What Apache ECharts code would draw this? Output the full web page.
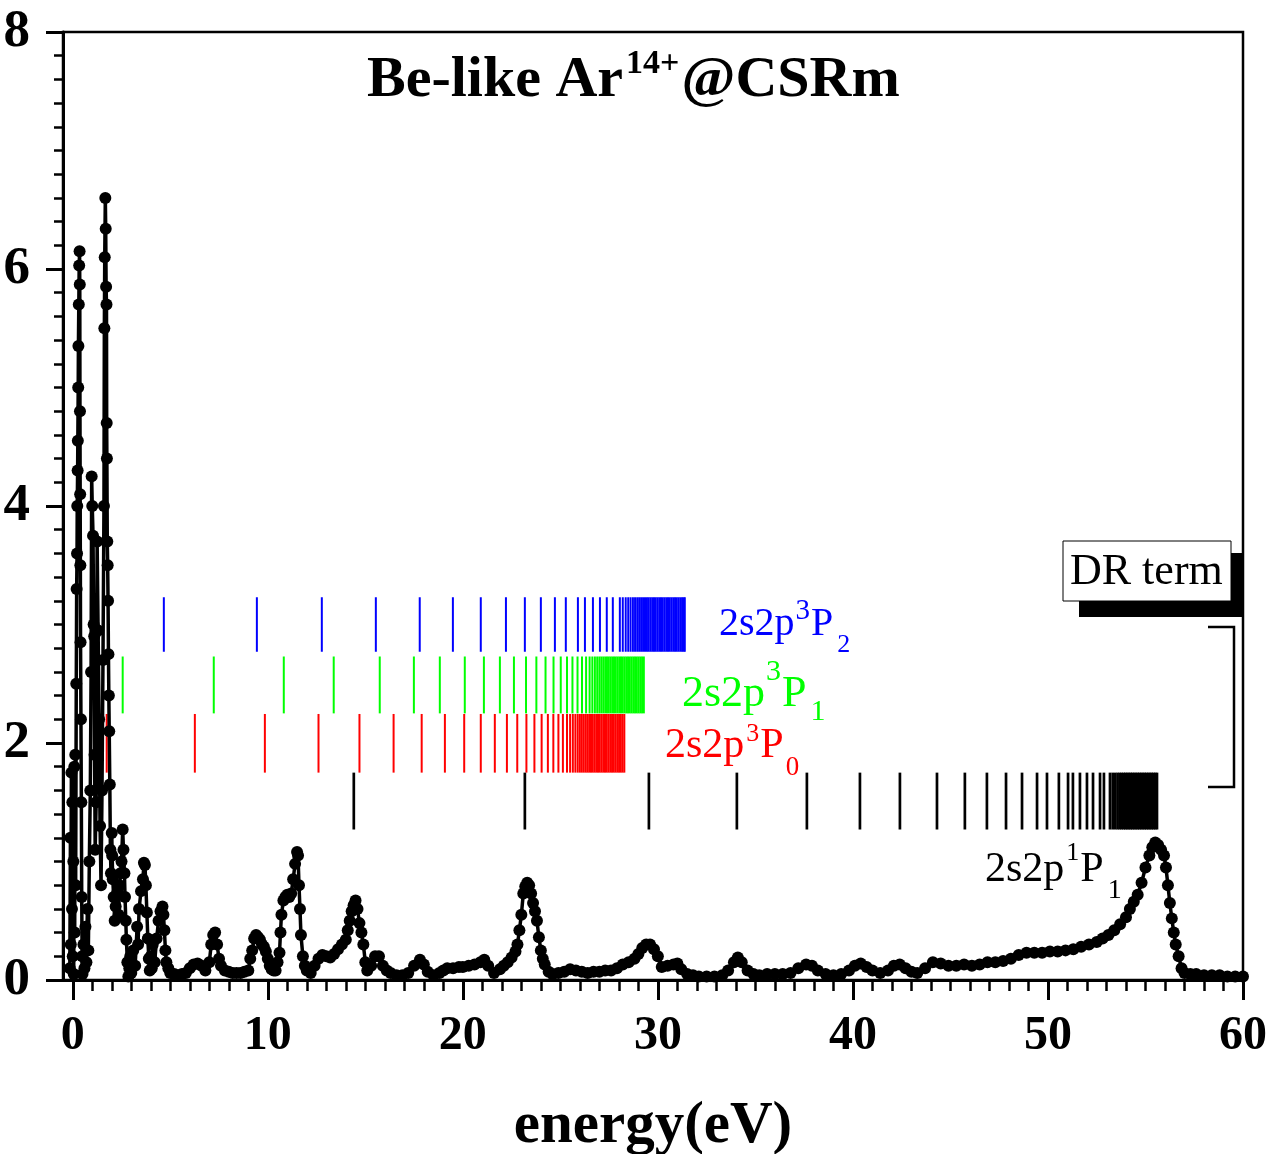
<!DOCTYPE html>
<html><head><meta charset="utf-8">
<script src="https://cdn.jsdelivr.net/npm/echarts@6/dist/echarts.min.js"></script>
<style>html,body{margin:0;padding:0;background:#fff}#c{width:1271px;height:1154px}</style>
</head><body><div id="c"></div>
<script>
const FONT = '"Liberation Serif", "Times New Roman", serif';

// ---- axis ticks ----
const xMajorTicks = [0, 10, 20, 30, 40, 50, 60];
const xMinorTicks = [0,1,2,3,4,5,6,7,8,9,10,11,12,13,14,15,16,17,18,19,20,21,22,23,24,25,26,27,28,29,30,31,32,33,34,35,36,37,38,39,40,41,42,43,44,45,46,47,48,49,50,51,52,53,54,55,56,57,58,59,60];

// ---- measured spectrum [energy eV, rate] ----
const spectrum = [[-0.15,0.1],[-0.12,1.2],[-0.1,0.3],[-0.07,1.75],[-0.04,0.6],[-0.02,1.5],[0.0,0.2],[0.03,1.0],[0.05,0.05],[0.08,1.8],[0.1,0.4],[0.13,1.9],[0.15,0.8],[0.18,2.5],[0.2,3.3],[0.22,3.6],[0.23,4.0],[0.25,4.3],[0.26,4.55],[0.28,5.0],[0.29,5.35],[0.31,5.7],[0.33,6.03],[0.35,6.15],[0.36,5.87],[0.37,4.8],[0.38,4.1],[0.39,3.5],[0.4,2.85],[0.42,2.2],[0.44,1.5],[0.46,0.7],[0.48,0.2],[0.5,0.05],[0.55,0.3],[0.6,0.1],[0.65,0.45],[0.7,0.15],[0.75,0.6],[0.8,0.25],[0.85,1.0],[0.9,1.6],[0.94,2.6],[0.97,4.25],[1.0,4.0],[1.04,3.75],[1.07,3.0],[1.1,2.9],[1.12,1.9],[1.15,1.1],[1.2,1.5],[1.25,3.7],[1.3,2.95],[1.35,2.2],[1.4,1.3],[1.45,0.8],[1.5,1.6],[1.55,2.7],[1.6,4.0],[1.62,5.5],[1.64,6.1],[1.67,6.6],[1.69,6.34],[1.71,5.85],[1.73,5.7],[1.74,4.7],[1.75,4.4],[1.77,3.7],[1.79,3.5],[1.81,3.2],[1.83,2.75],[1.85,2.4],[1.87,2.1],[1.9,1.65],[1.93,1.1],[1.96,0.9],[2.0,1.24],[2.02,1.05],[2.05,0.85],[2.1,0.7],[2.15,0.5],[2.2,0.62],[2.3,0.75],[2.35,0.55],[2.4,0.8],[2.45,0.9],[2.5,1.0],[2.56,1.27],[2.6,1.1],[2.65,0.9],[2.68,0.7],[2.72,0.5],[2.75,0.34],[2.8,0.15],[2.85,0.03],[2.9,0.1],[2.95,0.2],[3.0,0.06],[3.1,0.25],[3.2,0.12],[3.3,0.45],[3.35,0.3],[3.4,0.6],[3.5,0.75],[3.6,0.85],[3.65,0.99],[3.7,0.97],[3.75,0.8],[3.8,0.57],[3.85,0.35],[3.9,0.18],[3.95,0.08],[4.0,0.2],[4.05,0.1],[4.1,0.3],[4.2,0.15],[4.3,0.35],[4.4,0.5],[4.5,0.58],[4.6,0.62],[4.65,0.55],[4.7,0.42],[4.75,0.25],[4.8,0.15],[4.9,0.1],[5.0,0.06],[5.2,0.05],[5.4,0.04],[5.6,0.05],[5.8,0.06],[6.0,0.1],[6.2,0.13],[6.4,0.14],[6.6,0.12],[6.8,0.08],[7.0,0.15],[7.1,0.3],[7.2,0.38],[7.3,0.4],[7.4,0.3],[7.5,0.18],[7.6,0.12],[7.8,0.08],[8.0,0.07],[8.2,0.06],[8.4,0.06],[8.6,0.06],[8.8,0.07],[9.0,0.08],[9.1,0.18],[9.2,0.25],[9.3,0.35],[9.4,0.38],[9.5,0.36],[9.6,0.34],[9.7,0.3],[9.8,0.28],[9.9,0.24],[10.0,0.18],[10.1,0.12],[10.2,0.09],[10.3,0.08],[10.4,0.08],[10.5,0.15],[10.6,0.23],[10.65,0.4],[10.7,0.55],[10.8,0.67],[10.9,0.7],[11.0,0.72],[11.1,0.7],[11.2,0.73],[11.3,0.85],[11.4,0.98],[11.5,1.08],[11.55,1.05],[11.6,0.8],[11.65,0.6],[11.7,0.38],[11.8,0.2],[11.9,0.12],[12.0,0.08],[12.2,0.06],[12.4,0.12],[12.6,0.18],[12.8,0.21],[13.0,0.2],[13.2,0.19],[13.4,0.22],[13.6,0.26],[13.8,0.3],[14.0,0.34],[14.1,0.42],[14.2,0.5],[14.3,0.58],[14.4,0.63],[14.5,0.67],[14.6,0.6],[14.7,0.48],[14.8,0.4],[14.9,0.3],[15.0,0.15],[15.1,0.08],[15.3,0.12],[15.5,0.2],[15.7,0.2],[15.9,0.12],[16.1,0.08],[16.3,0.06],[16.6,0.04],[16.9,0.04],[17.2,0.06],[17.5,0.12],[17.8,0.17],[18.0,0.13],[18.2,0.07],[18.5,0.04],[18.8,0.06],[19.0,0.08],[19.2,0.1],[19.5,0.1],[19.8,0.11],[20.0,0.11],[20.3,0.12],[20.6,0.13],[20.9,0.15],[21.1,0.17],[21.3,0.12],[21.6,0.06],[21.9,0.09],[22.1,0.12],[22.3,0.15],[22.5,0.19],[22.7,0.24],[22.8,0.3],[22.9,0.42],[23.0,0.55],[23.1,0.73],[23.2,0.79],[23.3,0.82],[23.4,0.8],[23.5,0.73],[23.6,0.65],[23.7,0.58],[23.8,0.5],[23.9,0.36],[24.0,0.25],[24.1,0.18],[24.2,0.13],[24.4,0.07],[24.6,0.05],[24.9,0.06],[25.2,0.07],[25.5,0.09],[25.8,0.08],[26.1,0.07],[26.4,0.06],[26.7,0.07],[27.0,0.07],[27.3,0.08],[27.6,0.08],[27.9,0.1],[28.2,0.13],[28.5,0.15],[28.8,0.18],[29.0,0.22],[29.2,0.27],[29.4,0.3],[29.6,0.3],[29.8,0.26],[30.0,0.2],[30.2,0.11],[30.5,0.12],[30.8,0.13],[31.0,0.14],[31.2,0.09],[31.5,0.05],[31.8,0.04],[32.1,0.03],[32.5,0.03],[32.9,0.03],[33.3,0.04],[33.6,0.08],[33.9,0.15],[34.1,0.19],[34.3,0.15],[34.6,0.08],[34.9,0.05],[35.2,0.04],[35.6,0.05],[36.0,0.05],[36.4,0.05],[36.8,0.06],[37.2,0.1],[37.6,0.13],[37.9,0.12],[38.2,0.08],[38.6,0.05],[39.0,0.04],[39.4,0.05],[39.8,0.08],[40.1,0.12],[40.4,0.14],[40.7,0.11],[41.0,0.08],[41.4,0.06],[41.8,0.08],[42.1,0.12],[42.4,0.13],[42.7,0.1],[43.0,0.07],[43.3,0.06],[43.7,0.1],[44.1,0.15],[44.5,0.14],[44.9,0.12],[45.3,0.12],[45.7,0.13],[46.1,0.12],[46.5,0.13],[46.9,0.15],[47.3,0.15],[47.7,0.16],[48.1,0.18],[48.5,0.21],[48.9,0.23],[49.3,0.23],[49.7,0.23],[50.1,0.24],[50.5,0.24],[50.9,0.25],[51.3,0.26],[51.7,0.28],[52.1,0.3],[52.5,0.32],[52.8,0.35],[53.1,0.38],[53.4,0.42],[53.7,0.47],[54.0,0.53],[54.2,0.6],[54.4,0.66],[54.6,0.72],[54.8,0.82],[55.0,0.95],[55.2,1.05],[55.35,1.12],[55.5,1.16],[55.65,1.14],[55.8,1.1],[55.95,1.05],[56.05,0.95],[56.15,0.8],[56.25,0.65],[56.35,0.52],[56.45,0.4],[56.55,0.3],[56.7,0.2],[56.85,0.1],[57.0,0.06],[57.3,0.05],[57.6,0.05],[58.0,0.04],[58.4,0.04],[58.8,0.04],[59.2,0.03],[59.6,0.03],[60.0,0.03]];

// ---- DR resonance positions (eV) for each core excitation ----
const lines3P2 = [4.67,9.44,12.77,15.54,17.79,19.49,20.92,22.21,23.18,24.0,24.72,25.28,25.9,26.26,26.67,27.03,27.38,27.69,28.05,28.2,28.35,28.48,28.6,28.72,28.83,28.94,29.04,29.14,29.24,29.34,29.44,29.53,29.62,29.71,29.8,29.89,29.98,30.07,30.16,30.25,30.34,30.43,30.52,30.61,30.7,30.79,30.88,30.97,31.06,31.15,31.24,31.32,31.38];
const lines3P1 = [2.56,7.23,10.82,13.38,15.74,17.49,18.82,20.1,21.08,21.9,22.62,23.24,23.77,24.24,24.65,25.02,25.34,25.62,25.88,26.11,26.32,26.5,26.64,26.77,26.89,27.0,27.1,27.2,27.3,27.39,27.48,27.57,27.66,27.75,27.84,27.93,28.02,28.11,28.2,28.29,28.38,28.47,28.56,28.65,28.74,28.83,28.92,29.01,29.1,29.19,29.28];
const lines3P0 = [1.74,6.26,9.85,12.6,14.7,16.45,17.89,19.08,20.07,20.92,21.64,22.26,22.79,23.26,23.67,24.04,24.36,24.64,24.9,25.13,25.34,25.5,25.64,25.77,25.89,26.0,26.1,26.2,26.3,26.39,26.48,26.57,26.66,26.75,26.84,26.93,27.02,27.11,27.2,27.29,27.38,27.47,27.56,27.65,27.74,27.83,27.92,28.01,28.1,28.19,28.28];
const lines1P1 = [14.41,23.18,29.54,34.05,37.64,40.36,42.41,44.31,45.74,46.87,47.85,48.67,49.44,49.95,50.56,51.03,51.28,51.64,52.0,52.31,52.67,52.87,53.18,53.32,53.45,53.57,53.68,53.78,53.88,53.97,54.06,54.15,54.24,54.33,54.42,54.51,54.6,54.69,54.78,54.87,54.96,55.05,55.14,55.23,55.32,55.41,55.5,55.59];
// vertical extent (rate units) of each marker row
const range3P2 = [2.77, 3.23];
const range3P1 = [2.25, 2.73];
const range3P0 = [1.75, 2.245];
const range1P1 = [1.27, 1.75];

const chart = echarts.init(document.getElementById('c'));

const mctx = document.createElement('canvas').getContext('2d');
function tw(t, size, weight) { mctx.font = weight + ' ' + size + 'px ' + FONT; return mctx.measureText(t).width; }
function scripted(x0, base, parts, color, weight) {
  let cx = x0; const out = [];
  parts.forEach(p => {
    const t = p[0], size = p[1], dy = p[2], gap = p[3] || 0;
    cx += gap;
    out.push({ type: 'text', x: cx, y: base + dy - 0.34 * size, z: 100, silent: true,
      style: { text: t, fill: color, font: weight + ' ' + size + 'px ' + FONT,
        align: 'left', verticalAlign: 'middle', textAlign: 'left', textVerticalAlign: 'middle' } });
    cx += tw(t, size, weight);
  });
  return out;
}

function ladder(name, energies, range, color, width) {
  return {
    type: 'custom', name: name, z: 3,
    data: energies.map(e => [e, range[0], range[1]]),
    encode: { x: 0, y: [1, 2] },
    renderItem: function (params, api) {
      const p1 = api.coord([api.value(0), api.value(1)]);
      const p2 = api.coord([api.value(0), api.value(2)]);
      return { type: 'line', shape: { x1: p1[0], y1: p1[1], x2: p2[0], y2: p2[1] },
        style: { stroke: color, lineWidth: width } };
    },
    animation: false
  };
}

const graphics = [].concat(
  scripted(367, 101, [['Be-like Ar', 58, 0], ['14+', 34, -25, 3], ['@CSRm', 58, 0, 2]], '#000', 'bold'),
  scripted(719, 638, [['2s2p', 40, 0], ['3', 29, -17, 1], ['P', 40, 0, 1], ['2', 26, 16, 4]], '#0000ff', 'normal'),
  scripted(682, 709, [['2s2p', 44, 0], ['3', 30, -27, 1], ['P', 44, 0, 1], ['1', 30, 13, 4]], '#00ff00', 'normal'),
  scripted(665, 760, [['2s2p', 42, 0], ['3', 26, -17, 2], ['P', 42, 0, 1], ['0', 27, 17, 2]], '#ff0000', 'normal'),
  scripted(985, 884, [['2s2p', 42, 0], ['1', 26, -22, 2], ['P', 42, 0, 1], ['1', 28, 16, 4]], '#000', 'normal'),
  [
    { type: 'rect', z: 99, silent: true, shape: { x: 1079, y: 553, width: 165, height: 64 }, style: { fill: '#000' } },
    { type: 'rect', z: 100, silent: true, shape: { x: 1063, y: 541, width: 168, height: 60 }, style: { fill: '#fff', stroke: '#000', lineWidth: 1 } },
    { type: 'polyline', z: 100, silent: true, shape: { points: [[1208, 627], [1234, 627], [1234, 787], [1208, 787]] }, style: { stroke: '#000', lineWidth: 2.5, fill: null } }
  ],
  scripted(1070, 587, [['DR term', 44, 0]], '#000', 'normal').map(e => Object.assign(e, { z: 101 }))
);

chart.setOption({
  animation: false,
  backgroundColor: '#fff',
  grid: { left: 63, right: 28, top: 32, bottom: 174, containLabel: false, outerBoundsMode: 'none',
    show: true, borderColor: '#000', borderWidth: 2.5, backgroundColor: 'transparent' },
  xAxis: [{
    type: 'value', min: -0.5, max: 60, position: 'bottom',
    name: 'energy(eV)', nameLocation: 'middle', nameGap: 117,
    nameTextStyle: { fontFamily: FONT, fontWeight: 'bold', fontSize: 59, color: '#000' },
    axisLine: { show: true, onZero: false, lineStyle: { color: '#000', width: 3 } },
    axisTick: { show: true, inside: false, length: 20, customValues: xMajorTicks, lineStyle: { color: '#000', width: 3 } },
    axisLabel: { show: true, customValues: xMajorTicks, margin: 33, fontFamily: FONT, fontWeight: 'bold', fontSize: 48, color: '#000' },
    splitLine: { show: false }, minorTick: { show: false }
  }, {
    type: 'value', min: -0.5, max: 60, position: 'bottom', offset: 0,
    axisLine: { show: false },
    axisTick: { show: true, inside: false, length: 11, customValues: xMinorTicks, lineStyle: { color: '#000', width: 2.5 } },
    axisLabel: { show: false },
    splitLine: { show: false }
  }],
  yAxis: {
    type: 'value', min: 0, max: 8, interval: 2,
    axisLine: { show: true, onZero: false, lineStyle: { color: '#000', width: 3 } },
    axisTick: { show: true, inside: false, length: 17, lineStyle: { color: '#000', width: 3 } },
    minorTick: { show: true, splitNumber: 10, length: 9, lineStyle: { color: '#000', width: 2.5 } },
    axisLabel: { margin: 33, fontFamily: FONT, fontWeight: 'bold', fontSize: 53, color: '#000' },
    splitLine: { show: false }
  },
  series: [
    ladder('2s2p 3P2', lines3P2, range3P2, '#0000ff', 2),
    ladder('2s2p 3P1', lines3P1, range3P1, '#00ff00', 2),
    ladder('2s2p 3P0', lines3P0, range3P0, '#ff0000', 2),
    ladder('2s2p 1P1', lines1P1, range1P1, '#000000', 2.7),
    {
      type: 'line', name: 'rate', data: spectrum, z: 5,
      symbol: 'circle', symbolSize: 12, showAllSymbol: true,
      lineStyle: { color: '#000', width: 3.5 }, itemStyle: { color: '#000' },
      clip: false, animation: false
    }
  ],
  graphic: graphics
});
</script></body></html>
